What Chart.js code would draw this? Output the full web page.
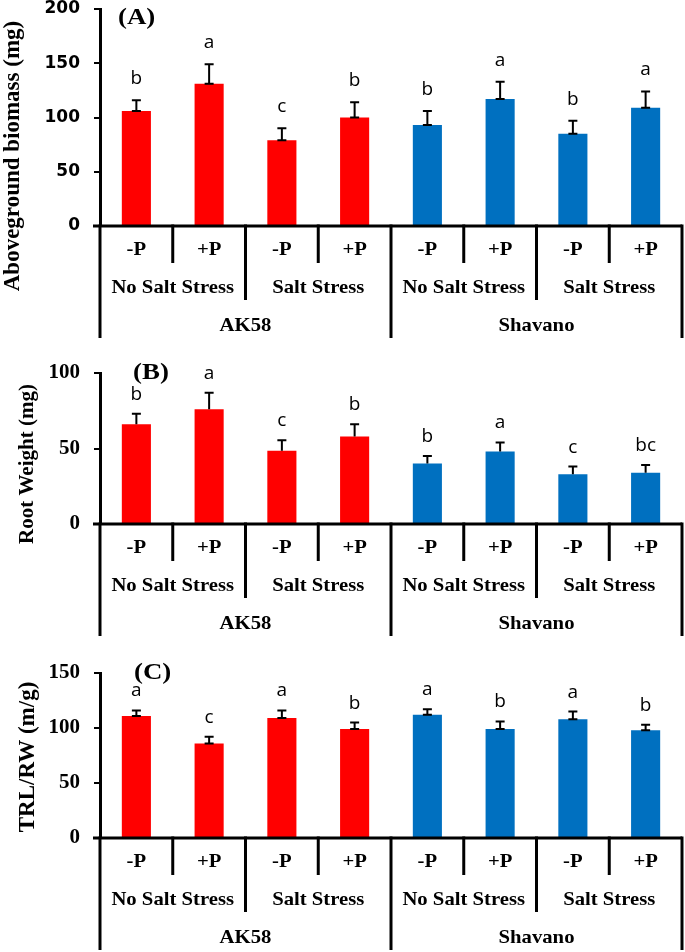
<!DOCTYPE html>
<html>
<head>
<meta charset="utf-8">
<script src="https://cdn.jsdelivr.net/npm/chart.js@4/dist/chart.umd.min.js"></script>
<style>
  html, body { margin: 0; padding: 0; background: #ffffff; }
  body { width: 685px; height: 952px; position: relative; overflow: hidden; }
  canvas { position: absolute; left: 0; }
</style>
</head>
<body>
<canvas id="cA" width="685" height="360" style="top:-20px"></canvas>
<canvas id="cB" width="685" height="300" style="top:340px"></canvas>
<canvas id="cC" width="685" height="312" style="top:640px"></canvas>
<script>
// ---- Data ----
const categories = ['-P', '+P', '-P', '+P', '-P', '+P', '-P', '+P'];
const saltGroups = ['No Salt Stress', 'Salt Stress', 'No Salt Stress', 'Salt Stress'];
const cultivars = ['AK58', 'Shavano'];

const biomass = [106, 131, 79, 100, 93, 117, 85, 109];
const biomassErr = [10, 18, 11, 14, 13, 16, 12, 15];
const biomassLetters = ['b', 'a', 'c', 'b', 'b', 'a', 'b', 'a'];

const rootWeight = [66, 76, 48.5, 58, 40, 48, 33, 34];
const rootWeightErr = [7, 11, 7, 8, 5, 6, 5, 5];
const rootWeightLetters = ['b', 'a', 'c', 'b', 'b', 'a', 'c', 'bc'];

const trlRw = [111, 86, 109, 99, 112, 99, 108, 98];
const trlRwErr = [5, 6, 7, 6, 5, 7, 7, 5];
const trlRwLetters = ['a', 'c', 'a', 'b', 'a', 'b', 'a', 'b'];

const yTicksA = [0, 50, 100, 150, 200];
const yTicksB = [0, 50, 100];
const yTicksC = [0, 50, 100, 150];

// ---- Styling ----
const RED = '#FF0000';
const BLUE = '#0070C0';
const SERIF = '"Liberation Serif", "Times New Roman", serif';
const SANS_WIDE = '"DejaVu Sans", "Liberation Sans", sans-serif';
const LETTER_FONT = '"Open Sans", "Noto Sans", sans-serif';

function barColors(n) {
  const out = [];
  for (let i = 0; i < n; i++) out.push(i < n / 2 ? RED : BLUE);
  return out;
}

function stretchedText(ctx, text, x, y, sx) {
  ctx.save();
  ctx.translate(x, y);
  ctx.scale(sx, 1);
  ctx.fillText(text, 0, 0);
  ctx.restore();
}

function makePanel(canvasId, opts) {
  const plugin = {
    id: 'panelDecor' + canvasId,
    afterDatasetsDraw(chart) {
      const ctx = chart.ctx;
      const xs = chart.scales.x;
      const ys = chart.scales.y;
      const area = chart.chartArea;
      const y0 = ys.getPixelForValue(0);
      const step = xs.getPixelForValue(1) - xs.getPixelForValue(0);
      const left = xs.getPixelForValue(0) - step / 2;
      ctx.save();
      // error bars
      ctx.strokeStyle = '#000';
      ctx.lineWidth = 2;
      const capHalf = 4.5;
      for (let i = 0; i < opts.values.length; i++) {
        const cx = xs.getPixelForValue(i);
        const base = ys.getPixelForValue(opts.values[i]);
        const top = ys.getPixelForValue(opts.values[i] + opts.errors[i]);
        ctx.beginPath();
        ctx.moveTo(cx, base);
        ctx.lineTo(cx, top);
        ctx.moveTo(cx - capHalf, top);
        ctx.lineTo(cx + capHalf, top);
        if (opts.lowerCap) {
          ctx.moveTo(cx - capHalf, base);
          ctx.lineTo(cx + capHalf, base);
        }
        ctx.stroke();
        // letters
        ctx.fillStyle = '#000';
        ctx.font = '19px ' + LETTER_FONT;
        ctx.textAlign = 'center';
        ctx.textBaseline = 'alphabetic';
        ctx.fillText(opts.letters[i], cx, top - opts.letterGap);
      }
      // zero axis line
      ctx.lineWidth = 3;
      ctx.lineCap = 'butt';
      ctx.beginPath();
      ctx.moveTo(area.left - 7, y0);
      ctx.lineTo(area.right, y0);
      ctx.stroke();
      // vertical separators
      const n = opts.values.length;
      for (let i = 0; i <= n; i++) {
        const bx = left + i * step;
        let depth = 37;
        if (i % 4 === 0) depth = 112;
        else if (i % 2 === 0) depth = 74;
        ctx.beginPath();
        ctx.moveTo(bx, y0 - 1.5);
        ctx.lineTo(bx, y0 + depth);
        ctx.stroke();
      }
      // category labels
      ctx.fillStyle = '#000';
      ctx.textAlign = 'center';
      ctx.textBaseline = 'middle';
      ctx.font = 'bold 19px ' + SERIF;
      categories.forEach((c, i) => {
        stretchedText(ctx, c, xs.getPixelForValue(i), y0 + 24, 1.09);
      });
      saltGroups.forEach((g, j) => {
        stretchedText(ctx, g, left + (2 * j + 1) * step, y0 + 62, 1.09);
      });
      cultivars.forEach((c, j) => {
        stretchedText(ctx, c, left + (4 * j + 2) * step, y0 + 100, 1.09);
      });
      // panel tag
      ctx.textAlign = 'left';
      ctx.font = 'bold 24px ' + SERIF;
      stretchedText(ctx, opts.tag, opts.tagX, opts.tagY, 1.12);
      // y title
      ctx.save();
      ctx.translate(opts.titleX, opts.titleY);
      ctx.rotate(-Math.PI / 2);
      ctx.textAlign = 'center';
      ctx.textBaseline = 'middle';
      ctx.font = 'bold ' + opts.titleSize + 'px ' + SERIF;
      ctx.fillText(opts.title, 0, 0);
      ctx.restore();
      ctx.restore();
    }
  };

  return new Chart(document.getElementById(canvasId), {
    type: 'bar',
    data: {
      labels: categories,
      datasets: [{
        data: opts.values,
        backgroundColor: barColors(opts.values.length),
        borderWidth: 0,
        barPercentage: 0.4,
        categoryPercentage: 1.0
      }]
    },
    options: {
      responsive: false,
      animation: false,
      devicePixelRatio: 1,
      layout: { padding: opts.padding },
      plugins: { legend: { display: false }, tooltip: { enabled: false } },
      scales: {
        x: { display: false, offset: true },
        y: {
          min: 0,
          max: opts.ticks[opts.ticks.length - 1],
          afterBuildTicks: (s) => { s.ticks = opts.ticks.map(v => ({ value: v })); },
          afterFit: (s) => { s.width = 100; },
          border: { display: true, color: '#000', width: 3 },
          grid: {
            display: true,
            drawOnChartArea: false,
            drawTicks: true,
            tickLength: 6,
            color: '#000',
            lineWidth: 2
          },
          ticks: {
            color: '#000',
            padding: 14,
            font: opts.tickFont
          }
        }
      }
    },
    plugins: [plugin]
  });
}

makePanel('cA', {
  values: biomass, errors: biomassErr, letters: biomassLetters, ticks: yTicksA,
  lowerCap: true, letterGap: 16,
  padding: { top: 29, bottom: 114, left: 0, right: 3 },
  tickFont: { family: SANS_WIDE, size: 17, weight: 'bold' },
  tag: '(A)', tagX: 118, tagY: 38,
  title: 'Aboveground biomass (mg)', titleSize: 23, titleX: 13, titleY: 176
});

makePanel('cB', {
  values: rootWeight, errors: rootWeightErr, letters: rootWeightLetters, ticks: yTicksB,
  lowerCap: false, letterGap: 14,
  padding: { top: 33, bottom: 116, left: 0, right: 3 },
  tickFont: { family: SERIF, size: 21, weight: 'bold' },
  tag: '(B)', tagX: 133, tagY: 33,
  title: 'Root Weight (mg)', titleSize: 21, titleX: 28, titleY: 124
});

makePanel('cC', {
  values: trlRw, errors: trlRwErr, letters: trlRwLetters, ticks: yTicksC,
  lowerCap: true, letterGap: 14,
  padding: { top: 33, bottom: 114, left: 0, right: 3 },
  tickFont: { family: SERIF, size: 21, weight: 'bold' },
  tag: '(C)', tagX: 134, tagY: 33,
  title: 'TRL/RW (m/g)', titleSize: 23, titleX: 28, titleY: 117
});
</script>
</body>
</html>
